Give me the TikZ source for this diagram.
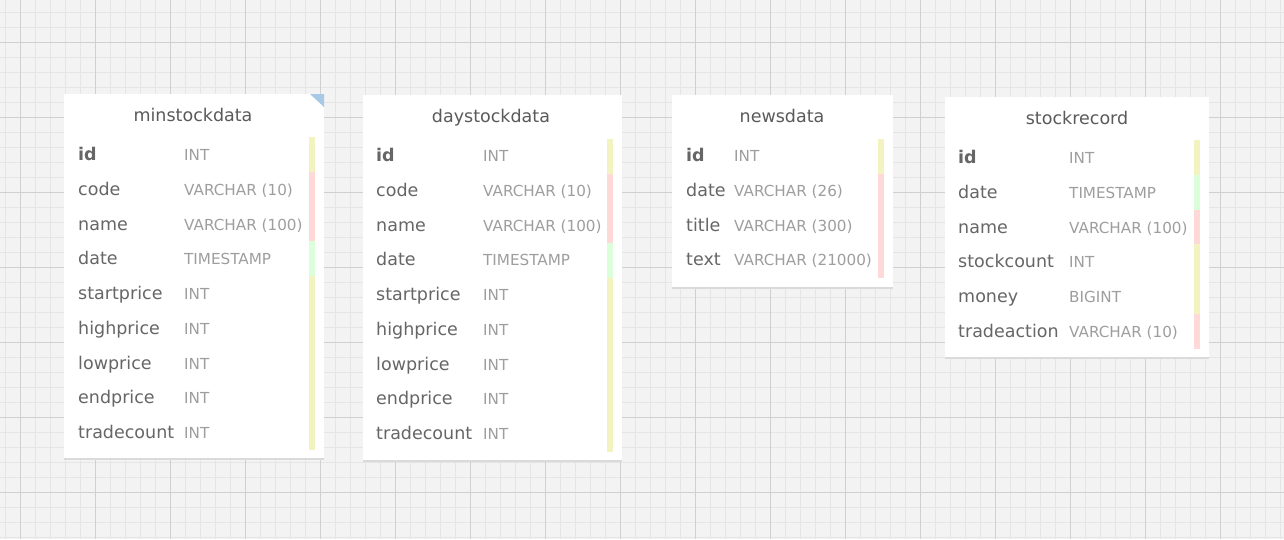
\documentclass[tikz,border=0pt]{standalone}
\usepackage{fontspec}
\setmainfont{DejaVu Sans}
\usepackage{tikz}
\usetikzlibrary{positioning}
\definecolor{bggray}{HTML}{F3F3F3}
\definecolor{minorgray}{HTML}{E5E5E5}
\definecolor{majorgray}{HTML}{D0D0D0}
\definecolor{shadowgray}{HTML}{DADADA}
\definecolor{titlegray}{HTML}{5A5A5A}
\definecolor{fieldgray}{HTML}{666666}
\definecolor{typegray}{HTML}{9E9E9E}
\definecolor{baryellow}{HTML}{F3F3C2}
\definecolor{barred}{HTML}{FFD8D8}
\definecolor{bargreen}{HTML}{DAFFDA}
\definecolor{cornerblue}{HTML}{A7C9E6}

\begin{document}
\begin{tikzpicture}[x=1pt, y=-1pt,
    ttitle/.style={anchor=base, inner sep=0pt, text=titlegray, font=\fontsize{17.5}{20}\selectfont},
    fname/.style={anchor=base west, inner sep=0pt, text=fieldgray, font=\fontsize{17.5}{20}\selectfont},
    fkey/.style={fname, font=\fontsize{17.5}{20}\selectfont\bfseries},
    ftype/.style={anchor=base west, inner sep=0pt, text=typegray, font=\fontsize{15.2}{18}\selectfont},
    tbox/.style={fill=white},
    tshadow/.style={fill=shadowgray}]
    \useasboundingbox (0, 0) rectangle (1284, 539);
    % grid
    \fill[bggray] (0, 0) rectangle (1284, 539);
    \begin{scope}
        \clip (0, 0) rectangle (1284, 539);
        \begin{scope}[shift={(5, 12)}]
            \draw[minorgray, line width=1pt] (-5, -12) grid[step=15pt] (1279, 527);
        \end{scope}
        \begin{scope}[shift={(20, 42)}]
            \draw[majorgray, line width=1pt] (-20, -42) grid[step=75pt] (1264, 497);
        \end{scope}
    \end{scope}
    % minstockdata
    \begin{scope}[shift={(64, 94)}]
        \fill[tshadow] (0, 2) rectangle (260, 366);
        \fill[tbox] (0, 0) rectangle (260, 364);
        \fill[cornerblue] (246, 0) -- (260, 0) -- (260, 13) -- cycle;
        \node[ttitle] (msdtitle) at (129, 27.5) {minstockdata};
        \fill[baryellow] (245, 43) rectangle (251, 77.75);
        \fill[barred] (245, 77.75) rectangle (251, 147.25);
        \fill[bargreen] (245, 147.25) rectangle (251, 182);
        \fill[baryellow] (245, 182) rectangle (251, 355.75);
        \node[fkey] (msdid) at (14, 66.5) {id}; \node[ftype] (msdidt) at (120, 66.5) {INT};
        \node[fname] (msdcode) at (14, 101.25) {code}; \node[ftype] (msdcodet) at (120, 101.25) {VARCHAR (10)};
        \node[fname] (msdname) at (14, 136) {name}; \node[ftype] (msdnamet) at (120, 136) {VARCHAR (100)};
        \node[fname] (msddate) at (14, 170.75) {date}; \node[ftype] (msddatet) at (120, 170.75) {TIMESTAMP};
        \node[fname] (msdstart) at (14, 205.5) {startprice}; \node[ftype] (msdstartt) at (120, 205.5) {INT};
        \node[fname] (msdhigh) at (14, 240.25) {highprice}; \node[ftype] (msdhight) at (120, 240.25) {INT};
        \node[fname] (msdlow) at (14, 275) {lowprice}; \node[ftype] (msdlowt) at (120, 275) {INT};
        \node[fname] (msdend) at (14, 309.75) {endprice}; \node[ftype] (msdendt) at (120, 309.75) {INT};
        \node[fname] (msdcount) at (14, 344.5) {tradecount}; \node[ftype] (msdcountt) at (120, 344.5) {INT};
    \end{scope}
    % daystockdata
    \begin{scope}[shift={(363, 95)}]
        \fill[tshadow] (0, 2) rectangle (259, 367);
        \fill[tbox] (0, 0) rectangle (259, 365);
        \node[ttitle] (dsdtitle) at (128, 27.5) {daystockdata};
        \fill[baryellow] (244, 44) rectangle (250, 78.75);
        \fill[barred] (244, 78.75) rectangle (250, 148.25);
        \fill[bargreen] (244, 148.25) rectangle (250, 183);
        \fill[baryellow] (244, 183) rectangle (250, 356.75);
        \node[fkey] (dsdid) at (13, 66.5) {id}; \node[ftype] (dsdidt) at (120, 66.5) {INT};
        \node[fname] (dsdcode) at (13, 101.25) {code}; \node[ftype] (dsdcodet) at (120, 101.25) {VARCHAR (10)};
        \node[fname] (dsdname) at (13, 136) {name}; \node[ftype] (dsdnamet) at (120, 136) {VARCHAR (100)};
        \node[fname] (dsddate) at (13, 170.75) {date}; \node[ftype] (dsddatet) at (120, 170.75) {TIMESTAMP};
        \node[fname] (dsdstart) at (13, 205.5) {startprice}; \node[ftype] (dsdstartt) at (120, 205.5) {INT};
        \node[fname] (dsdhigh) at (13, 240.25) {highprice}; \node[ftype] (dsdhight) at (120, 240.25) {INT};
        \node[fname] (dsdlow) at (13, 275) {lowprice}; \node[ftype] (dsdlowt) at (120, 275) {INT};
        \node[fname] (dsdend) at (13, 309.75) {endprice}; \node[ftype] (dsdendt) at (120, 309.75) {INT};
        \node[fname] (dsdcount) at (13, 344.5) {tradecount}; \node[ftype] (dsdcountt) at (120, 344.5) {INT};
    \end{scope}
    % newsdata
    \begin{scope}[shift={(672, 95)}]
        \fill[tshadow] (0, 2) rectangle (221, 194);
        \fill[tbox] (0, 0) rectangle (221, 192);
        \node[ttitle] (ndtitle) at (110, 27.5) {newsdata};
        \fill[baryellow] (206, 44) rectangle (212, 78.75);
        \fill[barred] (206, 78.75) rectangle (212, 183);
        \node[fkey] (ndid) at (14, 66.5) {id}; \node[ftype] (ndidt) at (62, 66.5) {INT};
        \node[fname] (nddate) at (14, 101.25) {date}; \node[ftype] (nddatet) at (62, 101.25) {VARCHAR (26)};
        \node[fname] (ndtitlef) at (14, 136) {title}; \node[ftype] (ndtitlet) at (62, 136) {VARCHAR (300)};
        \node[fname] (ndtext) at (14, 170.75) {text}; \node[ftype] (ndtextt) at (62, 170.75) {VARCHAR (21000)};
    \end{scope}
    % stockrecord
    \begin{scope}[shift={(945, 97)}]
        \fill[tshadow] (0, 2) rectangle (264, 262);
        \fill[tbox] (0, 0) rectangle (264, 260);
        \node[ttitle] (srtitle) at (132, 27.5) {stockrecord};
        \fill[baryellow] (249, 43) rectangle (255, 77.75);
        \fill[bargreen] (249, 77.75) rectangle (255, 112.5);
        \fill[barred] (249, 112.5) rectangle (255, 147.25);
        \fill[baryellow] (249, 147.25) rectangle (255, 216.75);
        \fill[barred] (249, 216.75) rectangle (255, 251.5);
        \node[fkey] (srid) at (13, 66.5) {id}; \node[ftype] (sridt) at (124, 66.5) {INT};
        \node[fname] (srdate) at (13, 101.25) {date}; \node[ftype] (srdatet) at (124, 101.25) {TIMESTAMP};
        \node[fname] (srname) at (13, 136) {name}; \node[ftype] (srnamet) at (124, 136) {VARCHAR (100)};
        \node[fname] (srcount) at (13, 170.75) {stockcount}; \node[ftype] (srcountt) at (124, 170.75) {INT};
        \node[fname] (srmoney) at (13, 205.5) {money}; \node[ftype] (srmoneyt) at (124, 205.5) {BIGINT};
        \node[fname] (sraction) at (13, 240.25) {tradeaction}; \node[ftype] (sractiont) at (124, 240.25) {VARCHAR (10)};
    \end{scope}
\end{tikzpicture}
\end{document}
